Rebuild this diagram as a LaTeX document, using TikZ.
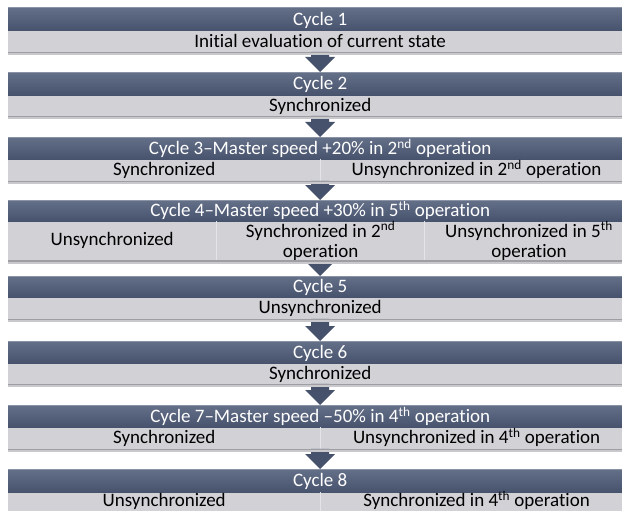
\documentclass[tikz,border=0pt]{standalone}
\usepackage{fontspec}
\setmainfont{Carlito}[Ligatures={TeX,NoCommon}]
\usetikzlibrary{calc}

\definecolor{hdtop}{HTML}{646F88}
\definecolor{hdbot}{HTML}{47536D}
\definecolor{hdedge}{HTML}{8A93A6}
\definecolor{bodyfill}{HTML}{D1D1D6}
\definecolor{arrowfill}{HTML}{46526C}
\definecolor{shadowdark}{HTML}{9E9EA3}
\definecolor{shadowlight}{HTML}{C9C9CD}
\definecolor{sepline}{HTML}{E4E4E8}

\newcommand{\txtfont}{\fontsize{19}{20.5}\selectfont}

\tikzset{
  hdr/.style={anchor=north west, minimum width=624pt, minimum height=22.5pt,
    inner sep=0pt, text height=12.5pt, text depth=0pt,
    top color=hdtop, bottom color=hdbot, text=white, font=\txtfont},
  cell/.style={anchor=north west, minimum height=20.5pt, inner sep=0pt,
    fill=bodyfill, text=black, font=\txtfont, align=center},
  line/.style={text height=12.5pt, text depth=1pt},
  full/.style={cell, line, minimum width=624pt},
  half/.style={cell, line, minimum width=312pt},
  third/.style={cell, minimum width=208pt, minimum height=38pt},
  flowarrow/.style={fill=arrowfill, draw=none},
  colsep/.style={draw=sepline, line width=0.8pt},
}

% down arrow from the bottom of one block to the top of the next
\newcommand{\flowdown}[2]{%
  \fill[flowarrow] let \p1=(#1), \p2=(#2) in
    (\x2-9pt,\y1) -- (\x2+9pt,\y1) -- (\x2+9pt,\y2+15pt) -- (\x2+15pt,\y2+15pt)
    -- (\x2,\y2) -- (\x2-15pt,\y2+15pt) -- (\x2-9pt,\y2+15pt) -- cycle;}

% soft shadow strip under a block
\newcommand{\blockshadow}[2]{%
  \fill[shadowlight] ($(#1)+(0,0)$) rectangle ($(#2)+(0,3)$);
  \fill[shadowdark] ($(#1)+(0,0)$) rectangle ($(#2)+(0,1.6)$);}

% light rim at the top of a header bar
\newcommand{\hdrim}[1]{%
  \draw[hdedge, line width=0.8pt] ($(#1.north west)+(0,0.4)$) -- ($(#1.north east)+(0,0.4)$);}

\begin{document}
\begin{tikzpicture}[x=1pt, y=-1pt]
\useasboundingbox (0,0) rectangle (622,511);
\clip (0,0) rectangle (622,511);
\fill[white] (0,0) rectangle (622,511);

% Cycle 1
\node[hdr, minimum height=23.5pt] (h1) at (8,7) {Cycle 1};
\node[full, minimum height=20.5pt] (b1) at (h1.south west) {Initial evaluation of current state};

% Cycle 2
\node[hdr, minimum height=23pt] (h2) at (8,72) {Cycle 2};
\node[full, minimum height=20pt] (b2) at (h2.south west) {Synchronized};

% Cycle 3
\node[hdr, minimum height=22pt] (h3) at (8,137) {Cycle 3--Master speed +20\% in 2\textsuperscript{nd} operation};
\node[half, minimum height=21pt] (b3a) at (h3.south west) {Synchronized};
\node[half, minimum height=21pt] (b3b) at (b3a.north east) {Unsynchronized in 2\textsuperscript{nd} operation};

% Cycle 4
\node[hdr, minimum height=21pt] (h4) at (8,200) {Cycle 4--Master speed +30\% in 5\textsuperscript{th} operation};
\node[third] (b4a) at (h4.south west) {Unsynchronized};
\node[third] (b4b) at (b4a.north east) {Synchronized in 2\textsuperscript{nd}\\operation};
\node[third] (b4c) at (b4b.north east) {Unsynchronized in 5\textsuperscript{th}\\operation};

% Cycle 5
\node[hdr, minimum height=21pt] (h5) at (8,276) {Cycle 5};
\node[full, minimum height=21pt] (b5) at (h5.south west) {Unsynchronized};

% Cycle 6
\node[hdr, minimum height=22pt] (h6) at (8,341) {Cycle 6};
\node[full, minimum height=20pt] (b6) at (h6.south west) {Synchronized};

% Cycle 7
\node[hdr, minimum height=22pt] (h7) at (8,405) {Cycle 7--Master speed --50\% in 4\textsuperscript{th} operation};
\node[half, minimum height=21pt] (b7a) at (h7.south west) {Synchronized};
\node[half, minimum height=21pt] (b7b) at (b7a.north east) {Unsynchronized in 4\textsuperscript{th} operation};

% Cycle 8
\node[hdr, minimum height=23pt] (h8) at (8,469) {Cycle 8};
\node[half, minimum height=17pt] (b8a) at (h8.south west) {Unsynchronized};
\node[half, minimum height=17pt] (b8b) at (b8a.north east) {Synchronized in 4\textsuperscript{th} operation};
\fill[bodyfill] (b8a.south west) rectangle ($(b8b.south east)+(0,6)$);

% header rims
\foreach \h in {h1,h2,h3,h4,h5,h6,h7,h8} {\hdrim{\h}}

% column separators
\draw[colsep] (b3a.north east) -- (b3a.south east);
\draw[colsep] (b4a.north east) -- (b4a.south east);
\draw[colsep] (b4b.north east) -- (b4b.south east);
\draw[colsep] (b7a.north east) -- (b7a.south east);
\draw[colsep] (b8a.north east) -- ($(b8a.south east)+(0,6)$);

% arrows between cycles
\flowdown{b1.south}{h2.north}
\flowdown{b2.south}{h3.north}
\flowdown{b3b.south west}{h4.north}
\flowdown{b4b.south}{h5.north}
\flowdown{b5.south}{h6.north}
\flowdown{b6.south}{h7.north}
\flowdown{b7b.south west}{h8.north}

% shadows under blocks
\blockshadow{b1.south west}{b1.south east}
\blockshadow{b2.south west}{b2.south east}
\blockshadow{b3a.south west}{b3b.south east}
\blockshadow{b4a.south west}{b4c.south east}
\blockshadow{b5.south west}{b5.south east}
\blockshadow{b6.south west}{b6.south east}
\blockshadow{b7a.south west}{b7b.south east}
\end{tikzpicture}
\end{document}
